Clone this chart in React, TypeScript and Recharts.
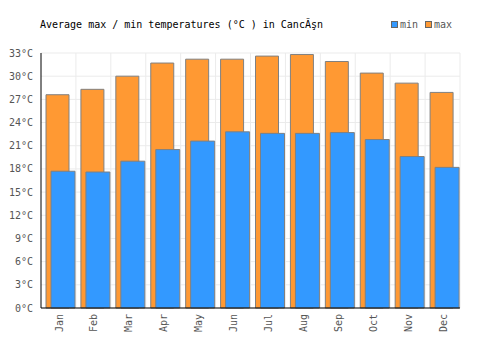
import { Bar, BarChart, CartesianGrid, Rectangle, XAxis, YAxis } from 'recharts';

const months = ['Jan', 'Feb', 'Mar', 'Apr', 'May', 'Jun', 'Jul', 'Aug', 'Sep', 'Oct', 'Nov', 'Dec'];
const minTemps = [17.7, 17.6, 19.0, 20.5, 21.6, 22.8, 22.6, 22.6, 22.7, 21.8, 19.6, 18.2];
const maxTemps = [27.6, 28.3, 30.0, 31.7, 32.2, 32.2, 32.6, 32.8, 31.9, 30.4, 29.1, 27.9];
const yTicks = [0, 3, 6, 9, 12, 15, 18, 21, 24, 27, 30, 33];

const FONT = '"DejaVu Sans Mono", monospace';

const rows = months.map((month, i) => ({ month, min: minTemps[i], max: maxTemps[i] }));

// shifts bars a couple of px right, the source draws them off-centre in the band
const shifted = (props: any) => <Rectangle {...props} x={props.x + 2} />;

function LegendBox() {
  const item = (color: string, label: string) => (
    <span style={{ display: 'inline-flex', alignItems: 'center', marginRight: 7 }}>
      <span style={{ width: 5, height: 5, background: color, border: '1px solid #666', marginRight: 2 }} />
      <span style={{ color: '#555' }}>{label}</span>
    </span>
  );
  return (
    <div style={{ position: 'absolute', left: 391, top: 19, fontFamily: FONT, fontSize: 10, display: 'flex' }}>
      {item('#3399ff', 'min')}
      {item('#ff9933', 'max')}
    </div>
  );
}

export default function App() {
  return (
    <div style={{ position: 'absolute', left: 0, top: 0, width: 500, height: 350, background: '#fff' }}>
      <div style={{ position: 'absolute', left: 40, top: 19, fontFamily: FONT, fontSize: 10, color: '#000', whiteSpace: 'pre' }}>
        Average max / min temperatures (°C ) in CancĂşn
      </div>
      <LegendBox />
      <BarChart
        width={500}
        height={350}
        data={rows}
        margin={{ top: 53, right: 40, bottom: 0, left: 0 }}
        barGap={-18}
        barCategoryGap={0}
      >
        <CartesianGrid
          stroke="#ebebeb"
          strokeWidth={1}
          verticalCoordinatesGenerator={({ offset }: any) =>
            months.map((_, i) => offset.left + ((i + 1) * offset.width) / months.length)
          }
        />
        <XAxis
          dataKey="month"
          height={42}
          interval={0}
          axisLine={{ stroke: '#000' }}
          tickLine={false}
          tick={{ fontFamily: FONT, fontSize: 10, fill: '#555' }}
          angle={-90}
          textAnchor="end"
          dy={-2}
          dx={-3}
        />
        <YAxis
          width={41}
          domain={[0, 33]}
          ticks={yTicks}
          interval={0}
          tickFormatter={(v: number) => `${v}°C`}
          axisLine={{ stroke: '#000' }}
          tickLine={false}
          tick={{ fontFamily: FONT, fontSize: 10, fill: '#555' }}
        />
        <Bar dataKey="max" barSize={23} fill="#ff9933" stroke="#808080" strokeWidth={1} shape={shifted} isAnimationActive={false} />
        <Bar dataKey="min" barSize={24} fill="#3399ff" stroke="#808080" strokeWidth={1} shape={shifted} isAnimationActive={false} />
      </BarChart>
    </div>
  );
}
